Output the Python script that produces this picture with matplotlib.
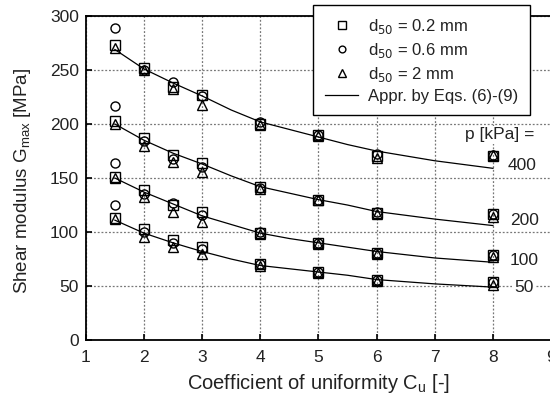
import numpy as np
import matplotlib.pyplot as plt

plt.rcParams['font.family'] = ['Liberation Sans', 'DejaVu Sans']

# Cu values for measured points
cu = [1.5, 2, 2.5, 3, 4, 5, 6, 8]

# measured Gmax [MPa], per pressure p [kPa]
sq = {
    400: [273, 252, 234, 227, 200, 190, 170, 170],
    200: [203, 187, 171, 164, 142, 130, 118, 117],
    100: [151, 139, 125, 119, 99, 90, 81, 79],
    50:  [113, 103, 93, 86, 70, 63, 56, 54],
}
ci = {
    400: [289, 250, 239, 226, 202, 190, 172, 171],
    200: [217, 184, 168, 160, 141, 130, 119, 117],
    100: [164, 135, 127, 116, 100, 90, 81, 79],
    50:  [125, 100, 90, 84, 70, 63, 56, 54],
}
tri = {
    400: [270, 250, 232, 218, 199, 189, 169, 171],
    200: [200, 180, 165, 156, 140, 130, 117, 114],
    100: [150, 132, 119, 109, 98, 89, 80, 77],
    50:  [112, 95, 86, 80, 69, 62, 55, 51],
}

# approximation curves
cu_fit = [1.5, 2, 2.5, 3, 3.5, 4, 4.5, 5, 5.5, 6, 7, 8]
fit = {
    400: [269, 251, 238, 226, 213, 202, 195, 188, 181, 175, 166, 159],
    200: [200, 185, 173, 163, 152, 142, 136, 130, 125, 119, 112, 106],
    100: [150, 137, 126, 115, 107, 99, 94, 90, 86, 82, 76, 72],
    50:  [111, 99, 90, 82, 75, 69, 66, 63, 60, 56, 52, 49],
}
pressures = [400, 200, 100, 50]
label_x = [8.26, 8.29, 8.29, 8.36]
label_y = [162, 111, 74, 49]

fig = plt.figure(figsize=(5.5, 4.01), dpi=100)
ax = fig.add_axes([0.156, 0.152, 0.846, 0.808])

ms = 7
for i, p in enumerate(pressures):
    ax.plot(cu_fit, fit[p], color='black', lw=0.9,
            label='Appr. by Eqs. (6)-(9)' if i == 0 else None)
    ax.plot(cu, sq[p], 's', ms=ms, mfc='none', mec='black', mew=1.0,
            label='d$_{50}$ = 0.2 mm' if i == 0 else None)
    ax.plot(cu, ci[p], 'o', ms=ms - 0.5, mfc='none', mec='black', mew=1.0,
            label='d$_{50}$ = 0.6 mm' if i == 0 else None)
    ax.plot(cu, tri[p], '^', ms=ms, mfc='none', mec='black', mew=1.0,
            label='d$_{50}$ = 2 mm' if i == 0 else None)
    ax.text(label_x[i], label_y[i], str(p), fontsize=12.5, color='#222222',
            va='center', ha='left',
            bbox=dict(facecolor='white', edgecolor='none', pad=1))

ax.text(7.52, 190, 'p [kPa] =', fontsize=12.5, color='#222222', va='center',
        ha='left', bbox=dict(facecolor='white', edgecolor='none', pad=1))

ax.set_xlim(1, 9)
ax.set_ylim(0, 300)
ax.set_xticks(range(1, 10))
ax.set_yticks(range(0, 301, 50))
ax.grid(True, color='#777777', ls=(0, (1.5, 1.5)), lw=0.9)
ax.tick_params(direction='in', length=4, width=1.2, labelsize=12.5,
               labelcolor='#222222', top=False, right=False)
ax.tick_params(axis='x', pad=7)
ax.tick_params(axis='y', pad=5)
for s in ax.spines.values():
    s.set_linewidth(1.3)

ax.set_xlabel('Coefficient of uniformity C$_\\mathregular{u}$ [-]', fontsize=14.5,
              color='#222222')
ax.set_ylabel('Shear modulus G$_\\mathregular{max}$ [MPa]', fontsize=13.5,
              color='#222222')
ax.xaxis.set_label_coords(0.5, -0.1)
ax.yaxis.set_label_coords(-0.113, 0.49)

# legend order: squares, circles, triangles, line
h, l = ax.get_legend_handles_labels()
order = [1, 2, 3, 0]
leg = ax.legend([h[k] for k in order], [l[k] for k in order],
                loc='upper right', bbox_to_anchor=(0.955, 1.034), fontsize=12,
                fancybox=False, framealpha=1, edgecolor='black',
                handlelength=2.0, handletextpad=0.6, borderpad=0.7,
                labelspacing=0.3, borderaxespad=0, markerscale=0.75)
leg.get_frame().set_linewidth(1.0)
for t in leg.get_texts():
    t.set_color('#222222')

fig.savefig('out.png', dpi=100)
